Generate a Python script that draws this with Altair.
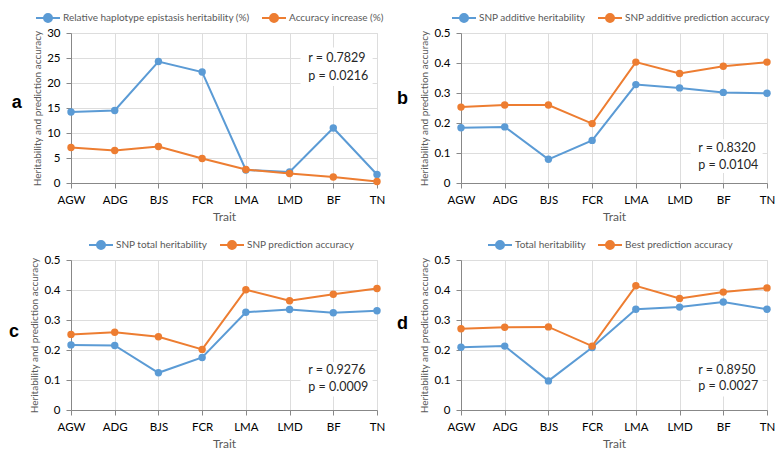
import json
import altair as alt
import pandas as pd

traits = ["AGW", "ADG", "BJS", "FCR", "LMA", "LMD", "BF", "TN"]

a_series = ["Relative haplotype epistasis heritability (%)", "Accuracy increase (%)"]
a_blue = [14.2, 14.5, 24.3, 22.2, 2.6, 2.2, 11.0, 1.7]
a_orange = [7.1, 6.5, 7.3, 4.9, 2.7, 1.9, 1.2, 0.3]
a_stats = ["r = 0.7829", "p = 0.0216"]

b_series = ["SNP additive heritability", "SNP additive prediction accuracy"]
b_blue = [0.184, 0.187, 0.079, 0.142, 0.328, 0.317, 0.302, 0.299]
b_orange = [0.253, 0.260, 0.260, 0.198, 0.403, 0.365, 0.389, 0.403]
b_stats = ["r = 0.8320", "p = 0.0104"]

c_series = ["SNP total heritability", "SNP prediction accuracy"]
c_blue = [0.217, 0.215, 0.124, 0.175, 0.326, 0.335, 0.324, 0.331]
c_orange = [0.252, 0.259, 0.244, 0.202, 0.401, 0.364, 0.386, 0.405]
c_stats = ["r = 0.9276", "p = 0.0009"]

d_series = ["Total heritability", "Best prediction accuracy"]
d_blue = [0.209, 0.213, 0.097, 0.208, 0.336, 0.343, 0.360, 0.336]
d_orange = [0.271, 0.276, 0.277, 0.213, 0.414, 0.372, 0.393, 0.407]
d_stats = ["r = 0.8950", "p = 0.0027"]

BLUE = "#5B9BD5"
ORANGE = "#ED7D31"
GRID = "#D9D9D9"
TXT = "#595959"
FONT = "Lato"
W, H = 306, 150

label_expr = json.dumps(traits) + "[datum.value]"
SYMBOL = "M-1.5,0L1.5,0M-0.5,0A0.5,0.5,0,1,1,0.5,0A0.5,0.5,0,1,1,-0.5,0Z"


def panel(letter, series, blue, orange, stats, yvals, text_y, box_y, legend_x, letter_dy):
    df = pd.DataFrame({
        "i": list(range(len(traits))) * 2,
        "trait": traits * 2,
        "series": [series[0]] * len(traits) + [series[1]] * len(traits),
        "value": blue + orange,
    })
    ymax = yvals[-1]
    x = alt.X("i:Q", scale=alt.Scale(domain=[0, len(traits) - 1], nice=False, zero=False),
              axis=alt.Axis(values=list(range(len(traits))), labelExpr=label_expr, title="Trait",
                            grid=True, labelFlush=False, labelPadding=6, titlePadding=6,
                            labelFontSize=11.5, titleFontSize=12, titleFontWeight="normal",
                            titleColor=TXT))
    y = alt.Y("value:Q", scale=alt.Scale(domain=[0, ymax], nice=False),
              axis=alt.Axis(values=yvals, format="~g", title="Heritability and prediction accuracy",
                            grid=True, labelFlush=False, labelPadding=6, titlePadding=4,
                            labelFontSize=11.5, titleFontSize=10, titleFontWeight="normal",
                            titleColor=TXT))
    legend = alt.Legend(title=None, orient="none", legendX=legend_x, legendY=-24,
                        direction="horizontal", symbolType=SYMBOL, symbolSize=256,
                        symbolStrokeWidth=2, labelFontSize=10, labelColor=TXT, labelFont=FONT,
                        labelOffset=6, columnPadding=8, labelLimit=0)
    color = alt.Color("series:N", scale=alt.Scale(domain=series, range=[BLUE, ORANGE]), legend=legend)

    layers = []
    box = pd.DataFrame({"i": [5.25], "i2": [6.9], "value": [box_y[0]], "value2": [box_y[1]]})
    layers.append(alt.Chart(box).mark_rect(fill="white").encode(x=x, x2="i2:Q", y=y, y2="value2:Q"))
    for name in series:
        sub = df[df["series"] == name]
        layers.append(alt.Chart(sub).mark_line(strokeWidth=2).encode(x=x, y=y, color=color))
        layers.append(alt.Chart(sub).mark_point(filled=True, size=55, opacity=1).encode(x=x, y=y, color=color))
    tx = pd.DataFrame({"i": [5.43, 5.43], "value": text_y, "label": stats})
    layers.append(alt.Chart(tx).mark_text(align="left", baseline="middle", fontSize=12.5,
                                          color="#262626", font=FONT).encode(x=x, y=y, text="label:N"))
    return alt.layer(*layers).properties(
        width=W, height=H,
        title=alt.Title(letter, orient="left", angle=0, anchor="middle", align="right",
                        fontSize=18, fontWeight="bold", color="black", font="Liberation Sans",
                        offset=1, dy=letter_dy),
    )


pa = panel("a", a_series, a_blue, a_orange, a_stats, [0, 5, 10, 15, 20, 25, 30],
           [25.0, 21.4], [27.1, 19.4], -32, -14)
pb = panel("b", b_series, b_blue, b_orange, b_stats, [0, 0.1, 0.2, 0.3, 0.4, 0.5],
           [0.116, 0.061], [0.146, 0.033], -6, -18)
pc = panel("c", c_series, c_blue, c_orange, c_stats, [0, 0.1, 0.2, 0.3, 0.4, 0.5],
           [0.132, 0.077], [0.160, 0.045], 21, -12)
pd_ = panel("d", d_series, d_blue, d_orange, d_stats, [0, 0.1, 0.2, 0.3, 0.4, 0.5],
            [0.135, 0.080], [0.163, 0.045], 30, -20)

chart = alt.concat(pa, pb, pc, pd_, columns=2, spacing={"row": 12, "column": 10}).resolve_scale(
    color="independent"
).resolve_legend(color="independent").properties(padding=0).configure_view(stroke=None).configure_axis(
    domainColor=GRID, gridColor=GRID, ticks=False, labelColor=TXT, titleColor=TXT,
    labelFont=FONT, titleFont=FONT, titleFontWeight="normal",
).configure(font=FONT)

chart.save("out.html", embed_options={"renderer": "svg", "actions": False})
